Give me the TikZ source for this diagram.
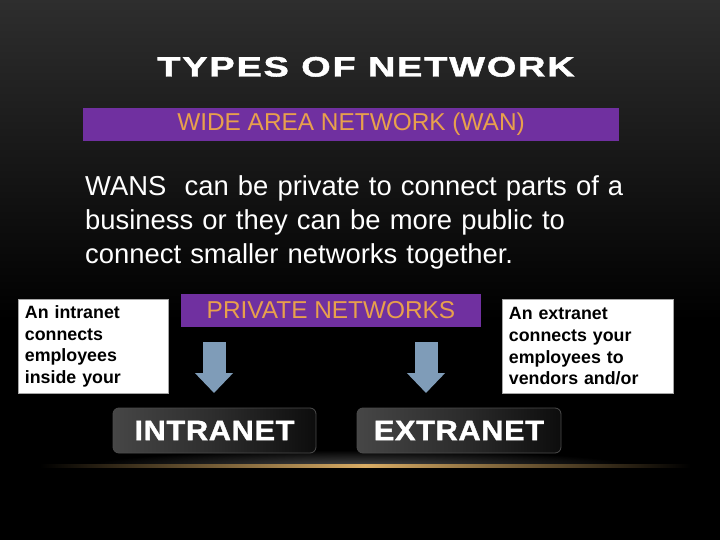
\documentclass[tikz,border=0pt]{standalone}
\usepackage{fontspec}
\setmainfont{Liberation Sans}
\usetikzlibrary{arrows.meta,shadings}
\definecolor{bandpurple}{HTML}{7030A0}
\definecolor{bandorange}{HTML}{E8A04C}
\definecolor{arrowblue}{HTML}{7F9CB8}
\definecolor{glow}{HTML}{F2C070}
\tikzset{
  band/.style={fill=bandpurple, text=bandorange, inner sep=0pt, font=\fontsize{24.4}{27}\selectfont},
  notebox/.style={fill=white, draw=gray!70, line width=0.8pt, text=black, align=left, anchor=north west,
     inner xsep=6.5pt, inner ysep=4pt, font=\bfseries\fontsize{17.8}{21.7}\selectfont},
  button/.style={rounded corners=6pt, draw=gray!60!black, line width=0.8pt,
     left color=gray!55!black, right color=black!95, middle color=gray!35!black,
     text=white, font=\bfseries\fontsize{28}{30}\selectfont\addfontfeatures{LetterSpace=2,FakeBold=1.2}, inner sep=0pt},
  blockarrow/.style={draw=arrowblue, line width=23pt, -{Triangle[width=37pt,length=20pt]}},
}
\begin{document}
\begin{tikzpicture}[x=1pt,y=-1pt]
\useasboundingbox (0,0) rectangle (720,540);
% background
\fill[black] (0,0) rectangle (720,540);
\shade[top color=black!82, bottom color=black, middle color=black!91] (0,0) rectangle (720,320);
% glow
\begin{scope}
\clip (0,440) rectangle (720,466);
\shade[inner color=black!72, outer color=black] (360,466) ellipse (270 and 16);
\end{scope}
\shade[left color=black, right color=black, middle color=glow!90!black] (40,464.8) rectangle (690,467.3);

\node[text=white, font=\bfseries\fontsize{28}{30}\selectfont\addfontfeatures{LetterSpace=5,FakeBold=1.5}, anchor=base] (title) at (366,76.5) {\scalebox{1.35}[1]{TYPES OF NETWORK}};

\node[band, minimum width=536pt, minimum height=33pt] (wan) at (351,124.5) {WIDE AREA NETWORK (WAN)};

\node[text=white, anchor=north west, align=left, text width=600pt, inner sep=0pt,
      font=\fontsize{27.4}{34}\selectfont] (body) at (85,175.5)
  {WANS\ \ can be private to connect parts of a\\business or they can be more public to\\connect smaller networks together.};

\node[notebox, minimum width=150pt, minimum height=94pt, text width=137pt] (intra) at (18,299)
  {An intranet\\connects\\employees\\inside your};
\node[notebox, minimum width=171pt, minimum height=94pt, text width=158pt] (extra) at (502,299)
  {An extranet\\connects your\\employees to\\vendors and/or};

\node[band, minimum width=300pt, minimum height=33pt] (priv) at (331,310.5) {PRIVATE NETWORKS};

\node[button, minimum width=203pt, minimum height=45pt] (bi) at (214.5,430.5) {\scalebox{1.1}[1]{INTRANET}};
\node[button, minimum width=204pt, minimum height=45pt] (be) at (459,430.5) {\scalebox{1.1}[1]{EXTRANET}};

\coordinate (a1s) at (214,342);
\coordinate (a1e) at (214,393);
\coordinate (a2s) at (426,342);
\coordinate (a2e) at (426,393);
\draw[blockarrow] (a1s) -- (a1e);
\draw[blockarrow] (a2s) -- (a2e);
\end{tikzpicture}
\end{document}
